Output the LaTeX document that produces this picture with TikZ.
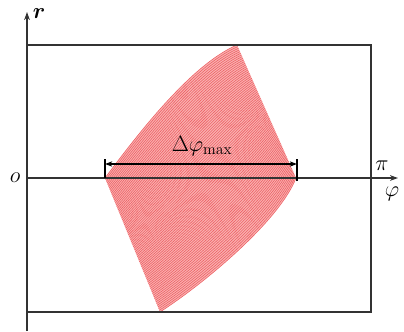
\RequirePackage{fix-cm}
\documentclass[tikz,border=0pt]{standalone}
\usepackage{amsmath}
\usepackage{bm}
\usetikzlibrary{arrows.meta, calc}

\definecolor{hatchred}{RGB}{238,96,100}
\definecolor{hatchpink}{RGB}{249,178,178}

\begin{document}
\begin{tikzpicture}[
    x=0.03cm, y=-0.03cm,
    font=\fontsize{19}{22}\selectfont,
    boxline/.style={draw=black!80, line width=1.3pt},
    axisarrow/.style={boxline, -{Stealth[length=2.4mm, width=1.7mm]}},
    dimline/.style={black, line width=0.9pt, {Stealth[length=2.2mm, width=1.6mm]}-{Stealth[length=2.2mm, width=1.6mm]}},
    dimtick/.style={black, line width=0.9pt},
    region/.style={fill=hatchpink, draw=none},
    stripe/.style={draw=hatchred, line width=0.5pt},
    lbl/.style={inner sep=1pt},
  ]
  \useasboundingbox (0,0) rectangle (404,331);

  % corners of the red region and its edge controls
  \coordinate (L) at (105,178);
  \coordinate (T) at (237,45);
  \coordinate (R) at (296,178);
  \coordinate (B) at (160,312);
  \coordinate (c1) at (135,138);
  \coordinate (c2) at (190,65);
  \coordinate (d1) at (205,283);
  \coordinate (d2) at (280,220);

  \fill[region] (L) .. controls (c1) and (c2) .. (T) -- (R)
    .. controls (d2) and (d1) .. (B) -- cycle;
  \foreach \s in {0,0.0125,...,1.001}
    \draw[stripe] ($(L)!\s!(B)$) .. controls ($(c1)!\s!(d1)$) and ($(c2)!\s!(d2)$) .. ($(T)!\s!(R)$);

  % axes and frame
  \coordinate (rbot) at (27,331);
  \coordinate (rtop) at (27,12);
  \coordinate (o) at (27,178);
  \coordinate (phiend) at (398,178);
  \coordinate (tl) at (27,45);
  \coordinate (tr) at (371,45);
  \coordinate (br) at (371,312);
  \coordinate (bl) at (27,312);

  \draw[boxline] (tl) -- (tr) -- (br) -- (bl);
  \draw[axisarrow] (rbot) -- (rtop);
  \draw[axisarrow] (o) -- (phiend);

  % width of the region
  \coordinate (lt) at (105,159);
  \coordinate (rt) at (297,159);
  \coordinate (rb) at (297,181);
  \coordinate (dl) at (105,164);
  \coordinate (dr) at (297,164);
  \draw[dimtick] (L) -- (lt);
  \draw[dimtick] (rb) -- (rt);
  \draw[dimline] (dl) -- (dr);

  \node[lbl] (rlab) at (39,14) {$\bm{r}$};
  \node[lbl] (olab) at (15,178) {$o$};
  \node[lbl] (pilab) at (382,166) {$\pi$};
  \node[lbl] (philab) at (392,194) {$\varphi$};
  \node[lbl] (dlab) at (202,146) {$\Delta\varphi_{\max}$};
\end{tikzpicture}
\end{document}
